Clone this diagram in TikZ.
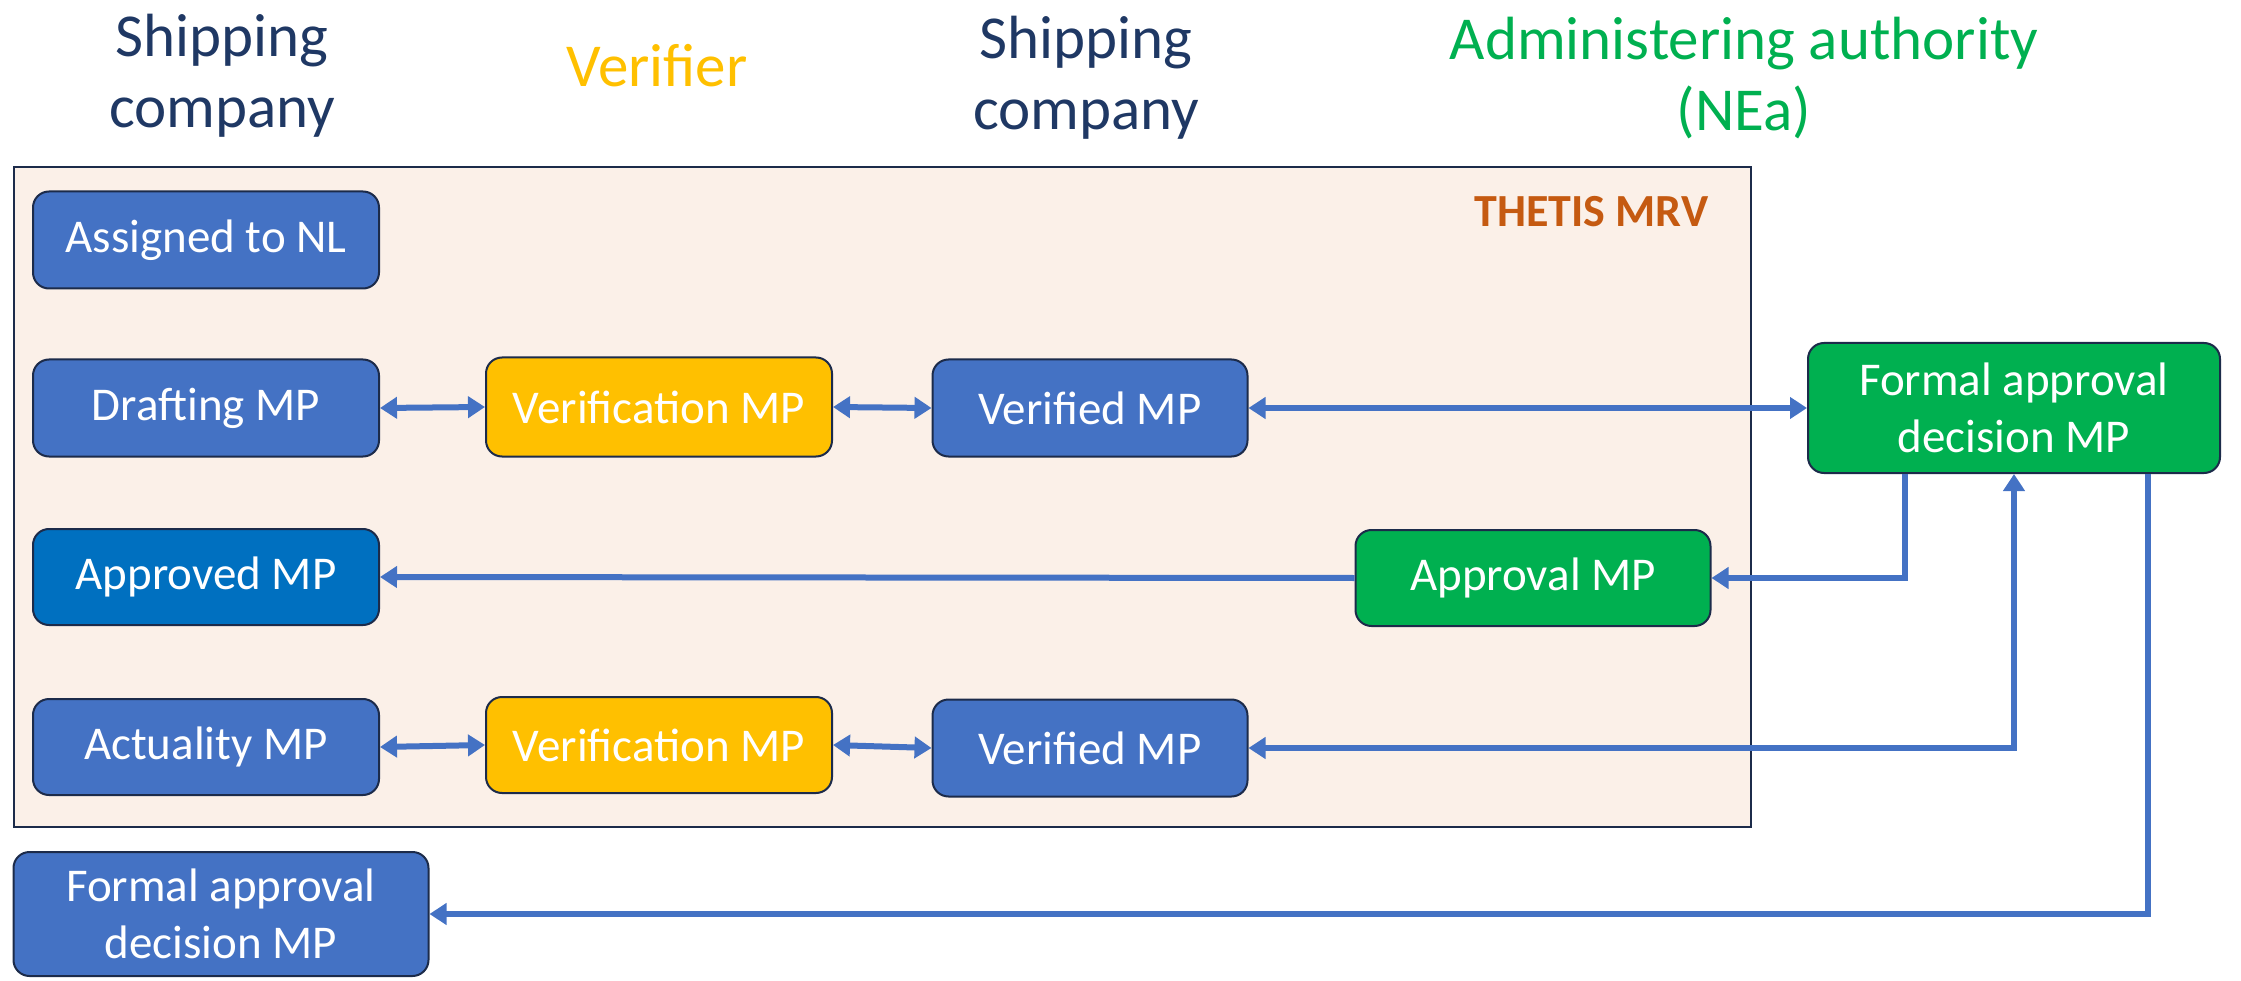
\documentclass[tikz,border=0pt]{standalone}
\usepackage{fontspec}
\setmainfont{Carlito}
\usetikzlibrary{arrows.meta}
\definecolor{nblue}{HTML}{4472C4}
\definecolor{nyellow}{HTML}{FFC000}
\definecolor{ngreen}{HTML}{00B050}
\definecolor{napproved}{HTML}{0070C0}
\definecolor{nborder}{HTML}{1C2B4A}
\definecolor{hdblue}{HTML}{1F3864}
\definecolor{boxfill}{HTML}{FBF0E8}
\definecolor{thetis}{HTML}{C55A11}
\tikzset{
  box/.style={draw=nborder, line width=2pt, rounded corners=16pt, text=white,
    align=center, inner sep=0pt, font=\fontsize{47}{57}\selectfont},
  bluebox/.style={box, fill=nblue},
  yelbox/.style={box, fill=nyellow},
  grnbox/.style={box, fill=ngreen},
  header/.style={align=center, font=\fontsize{61}{71}\selectfont},
  conn/.style={draw=nblue, line width=6pt, -{Triangle[length=17pt,width=21pt]}},
  dconn/.style={draw=nblue, line width=6pt, {Triangle[length=17pt,width=21pt]}-{Triangle[length=17pt,width=21pt]}},
  plain/.style={draw=nblue, line width=6pt}
}
\begin{document}
\begin{tikzpicture}[x=1pt,y=-1pt]
\useasboundingbox (0,0) rectangle (2241,981);
% container
\node[draw=nborder, line width=2.5pt, fill=boxfill, minimum width=1737pt, minimum height=660pt, inner sep=0pt] (mrv) at (882.5,497) {};
\node[anchor=east, text=thetis, font=\fontsize{46}{55}\selectfont\bfseries] (mrvlabel) at (1712,212) {THETIS MRV};
% headers
\node[header, text=hdblue] (h1) at (222,76) {Shipping\\company};
\node[header, text=nyellow] (h2) at (657,66) {Verifier};
\node[header, text=hdblue] (h3) at (1086,78) {Shipping\\company};
\node[header, text=ngreen] (h4) at (1744,78) {Administering authority\\(NEa)};
% nodes
\node[bluebox, minimum width=346pt, minimum height=97pt] (assigned) at (206,240) {Assigned to NL};
\node[bluebox, minimum width=346pt, minimum height=97pt] (drafting) at (206,408) {Drafting MP};
\node[yelbox, minimum width=346pt, minimum height=99pt] (verif1) at (659,407) {Verification MP};
\node[bluebox, minimum width=315pt, minimum height=97pt] (verified1) at (1090,408) {Verified MP};
\node[grnbox, minimum width=412pt, minimum height=130pt] (formalg) at (2014,408) {Formal approval\\decision MP};
\node[box, fill=napproved, minimum width=346pt, minimum height=96pt] (approved) at (206,577) {Approved MP};
\node[grnbox, minimum width=355pt, minimum height=96pt] (approval) at (1533,578) {Approval MP};
\node[bluebox, minimum width=346pt, minimum height=96pt] (actuality) at (206,747) {Actuality MP};
\node[yelbox, minimum width=346pt, minimum height=96pt] (verif2) at (659,745) {Verification MP};
\node[bluebox, minimum width=315pt, minimum height=97pt] (verified2) at (1090,748) {Verified MP};
\node[bluebox, minimum width=415pt, minimum height=124pt] (formalb) at (221,914) {Formal approval\\decision MP};
% connectors
\draw[dconn] (drafting.east) -- (verif1.west);
\draw[dconn] (verif1.east) -- (verified1.west);
\draw[dconn] (verified1.east) -- (formalg.west);
\draw[conn] (approval.west) -- (approved.east);
\coordinate (c1) at ([xshift=-109pt]formalg.south);
\draw[conn] (c1) |- (approval.east);
\draw[dconn] (actuality.east) -- (verif2.west);
\draw[dconn] (verif2.east) -- (verified2.west);
\draw[dconn] (verified2.east) -| (formalg.south);
\coordinate (c2) at ([xshift=134pt]formalg.south);
\draw[conn] (c2) |- (formalb.east);
\end{tikzpicture}
\end{document}
